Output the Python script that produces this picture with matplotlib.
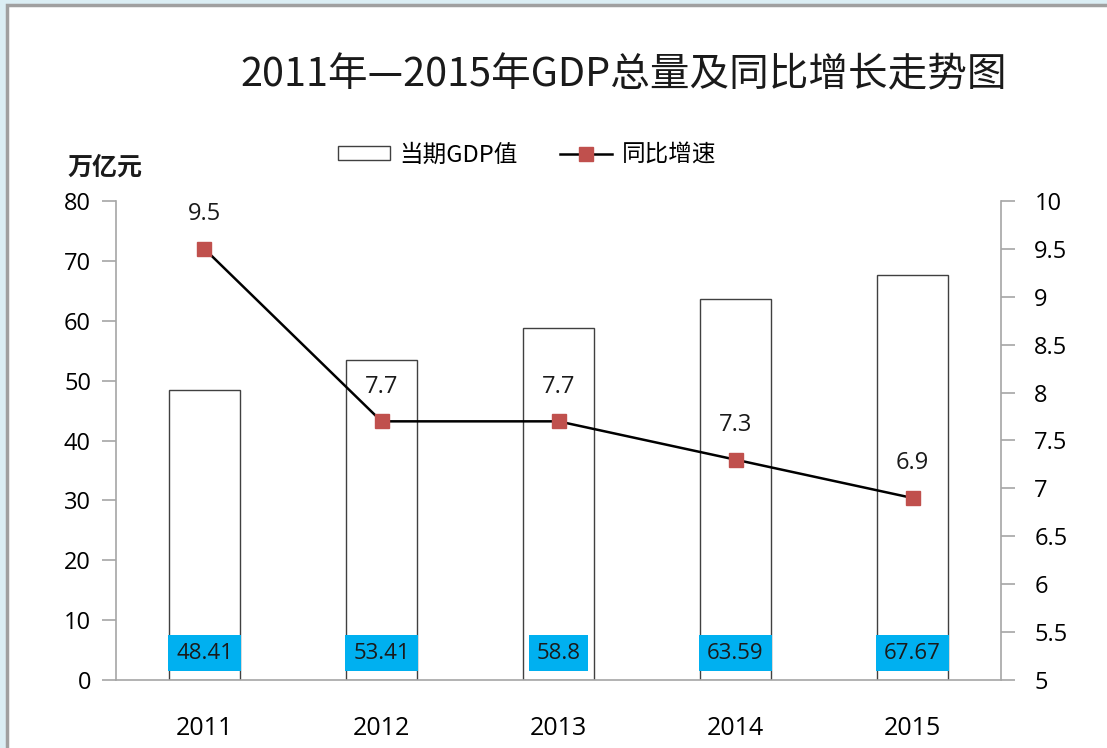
import matplotlib
matplotlib.use("Agg")
from matplotlib import pyplot as plt
from matplotlib.lines import Line2D
from matplotlib.patches import Rectangle

plt.rcParams['font.family'] = ['Noto Sans CJK SC', 'DejaVu Sans']

years = ["2011", "2012", "2013", "2014", "2015"]
gdp = [48.41, 53.41, 58.8, 63.59, 67.67]
growth = [9.5, 7.7, 7.7, 7.3, 6.9]
gdp_labels = ["48.41", "53.41", "58.8", "63.59", "67.67"]
growth_labels = ["9.5", "7.7", "7.7", "7.3", "6.9"]
left_ticks = [0, 10, 20, 30, 40, 50, 60, 70, 80]
right_ticks = [5, 5.5, 6, 6.5, 7, 7.5, 8, 8.5, 9, 9.5, 10]
right_tick_labels = ["5", "5.5", "6", "6.5", "7", "7.5", "8", "8.5", "9", "9.5", "10"]

axis_gray = "#a6a6a6"
red = "#c0504d"
blue = "#00b0f0"
num_font = ['Open Sans', 'DejaVu Sans']

fig = plt.figure(figsize=(11.07, 7.48), dpi=100)
fig.patch.set_facecolor("#dbeef4")
# white page with grey border
fig.patches.append(Rectangle((7 / 1107, -0.01), 1.02, 1 - 5 / 748 + 0.01, transform=fig.transFigure,
                             facecolor="white", edgecolor="#a0a0a0", linewidth=2.5, zorder=-1))

ax = fig.add_axes([116 / 1107, 68 / 748, 885 / 1107, 479 / 748])
ax.patch.set_alpha(0)
x = list(range(len(years)))

ax.bar(x, gdp, width=0.4, facecolor="white", edgecolor="#404040", linewidth=1.0, zorder=2)
ax.set_xlim(-0.5, 4.5)
ax.set_ylim(0, 80)
ax.set_yticks(left_ticks)
ax.set_xticks(x)
ax.set_xticklabels(years, fontsize=18, family=num_font)
ax.tick_params(axis='x', length=0, pad=26)
ax.tick_params(axis='y', direction='out', length=10, width=1.2, color=axis_gray, labelsize=17, pad=8)
for lab in ax.get_yticklabels():
    lab.set_family(num_font)
ax.spines['top'].set_visible(False)
ax.spines['right'].set_visible(False)
for s in ['left', 'bottom']:
    ax.spines[s].set_color(axis_gray)
    ax.spines[s].set_linewidth(1.2)

for xi, lab in zip(x, gdp_labels):
    ax.text(xi, 4.5, lab, ha='center', va='center', fontsize=16, family=num_font,
            color="#1a1a1a", zorder=4,
            bbox=dict(boxstyle="square,pad=0.35", facecolor=blue, edgecolor="none"))

ax2 = ax.twinx()
ax2.plot(x, growth, color="black", linewidth=1.8, marker='s', markersize=9.5,
         markerfacecolor=red, markeredgecolor=red, zorder=3)
ax2.set_ylim(5, 10)
ax2.set_yticks(right_ticks)
ax2.set_yticklabels(right_tick_labels, fontsize=17, family=num_font)
ax2.tick_params(axis='y', direction='out', length=10, width=1.2, color=axis_gray, pad=14)
for s in ['top', 'left', 'bottom']:
    ax2.spines[s].set_visible(False)
ax2.spines['right'].set_color(axis_gray)
ax2.spines['right'].set_linewidth(1.2)

for xi, g, lab in zip(x, growth, growth_labels):
    ax2.annotate(lab, (xi, g), xytext=(0, 25), textcoords='offset points', ha='center', va='center',
                 fontsize=17, family=num_font, color="#1a1a1a")

fig.text(624 / 1107, 1 - 75 / 748, "2011年—2015年GDP总量及同比增长走势图", ha='center', va='center',
         fontsize=28.5, color="#1a1a1a")
fig.text(105 / 1107, 1 - 168 / 748, "万亿元", ha='center', va='center', fontsize=18,
         fontweight='bold', color="#1a1a1a")

handles = [Rectangle((0, 0), 1, 1, facecolor="white", edgecolor="#404040", linewidth=1.0),
           Line2D([], [], color="black", linewidth=1.8, marker='s', markersize=9.5,
                  markerfacecolor=red, markeredgecolor=red)]
fig.legend(handles, ["当期GDP值", "同比增速"], loc='center', bbox_to_anchor=(527 / 1107, 1 - 155 / 748),
           ncol=2, frameon=False, fontsize=17, handlelength=2.2, handleheight=0.5, columnspacing=1.8,
           handletextpad=0.4)

fig.savefig("out.png", dpi=100, facecolor=fig.get_facecolor())
